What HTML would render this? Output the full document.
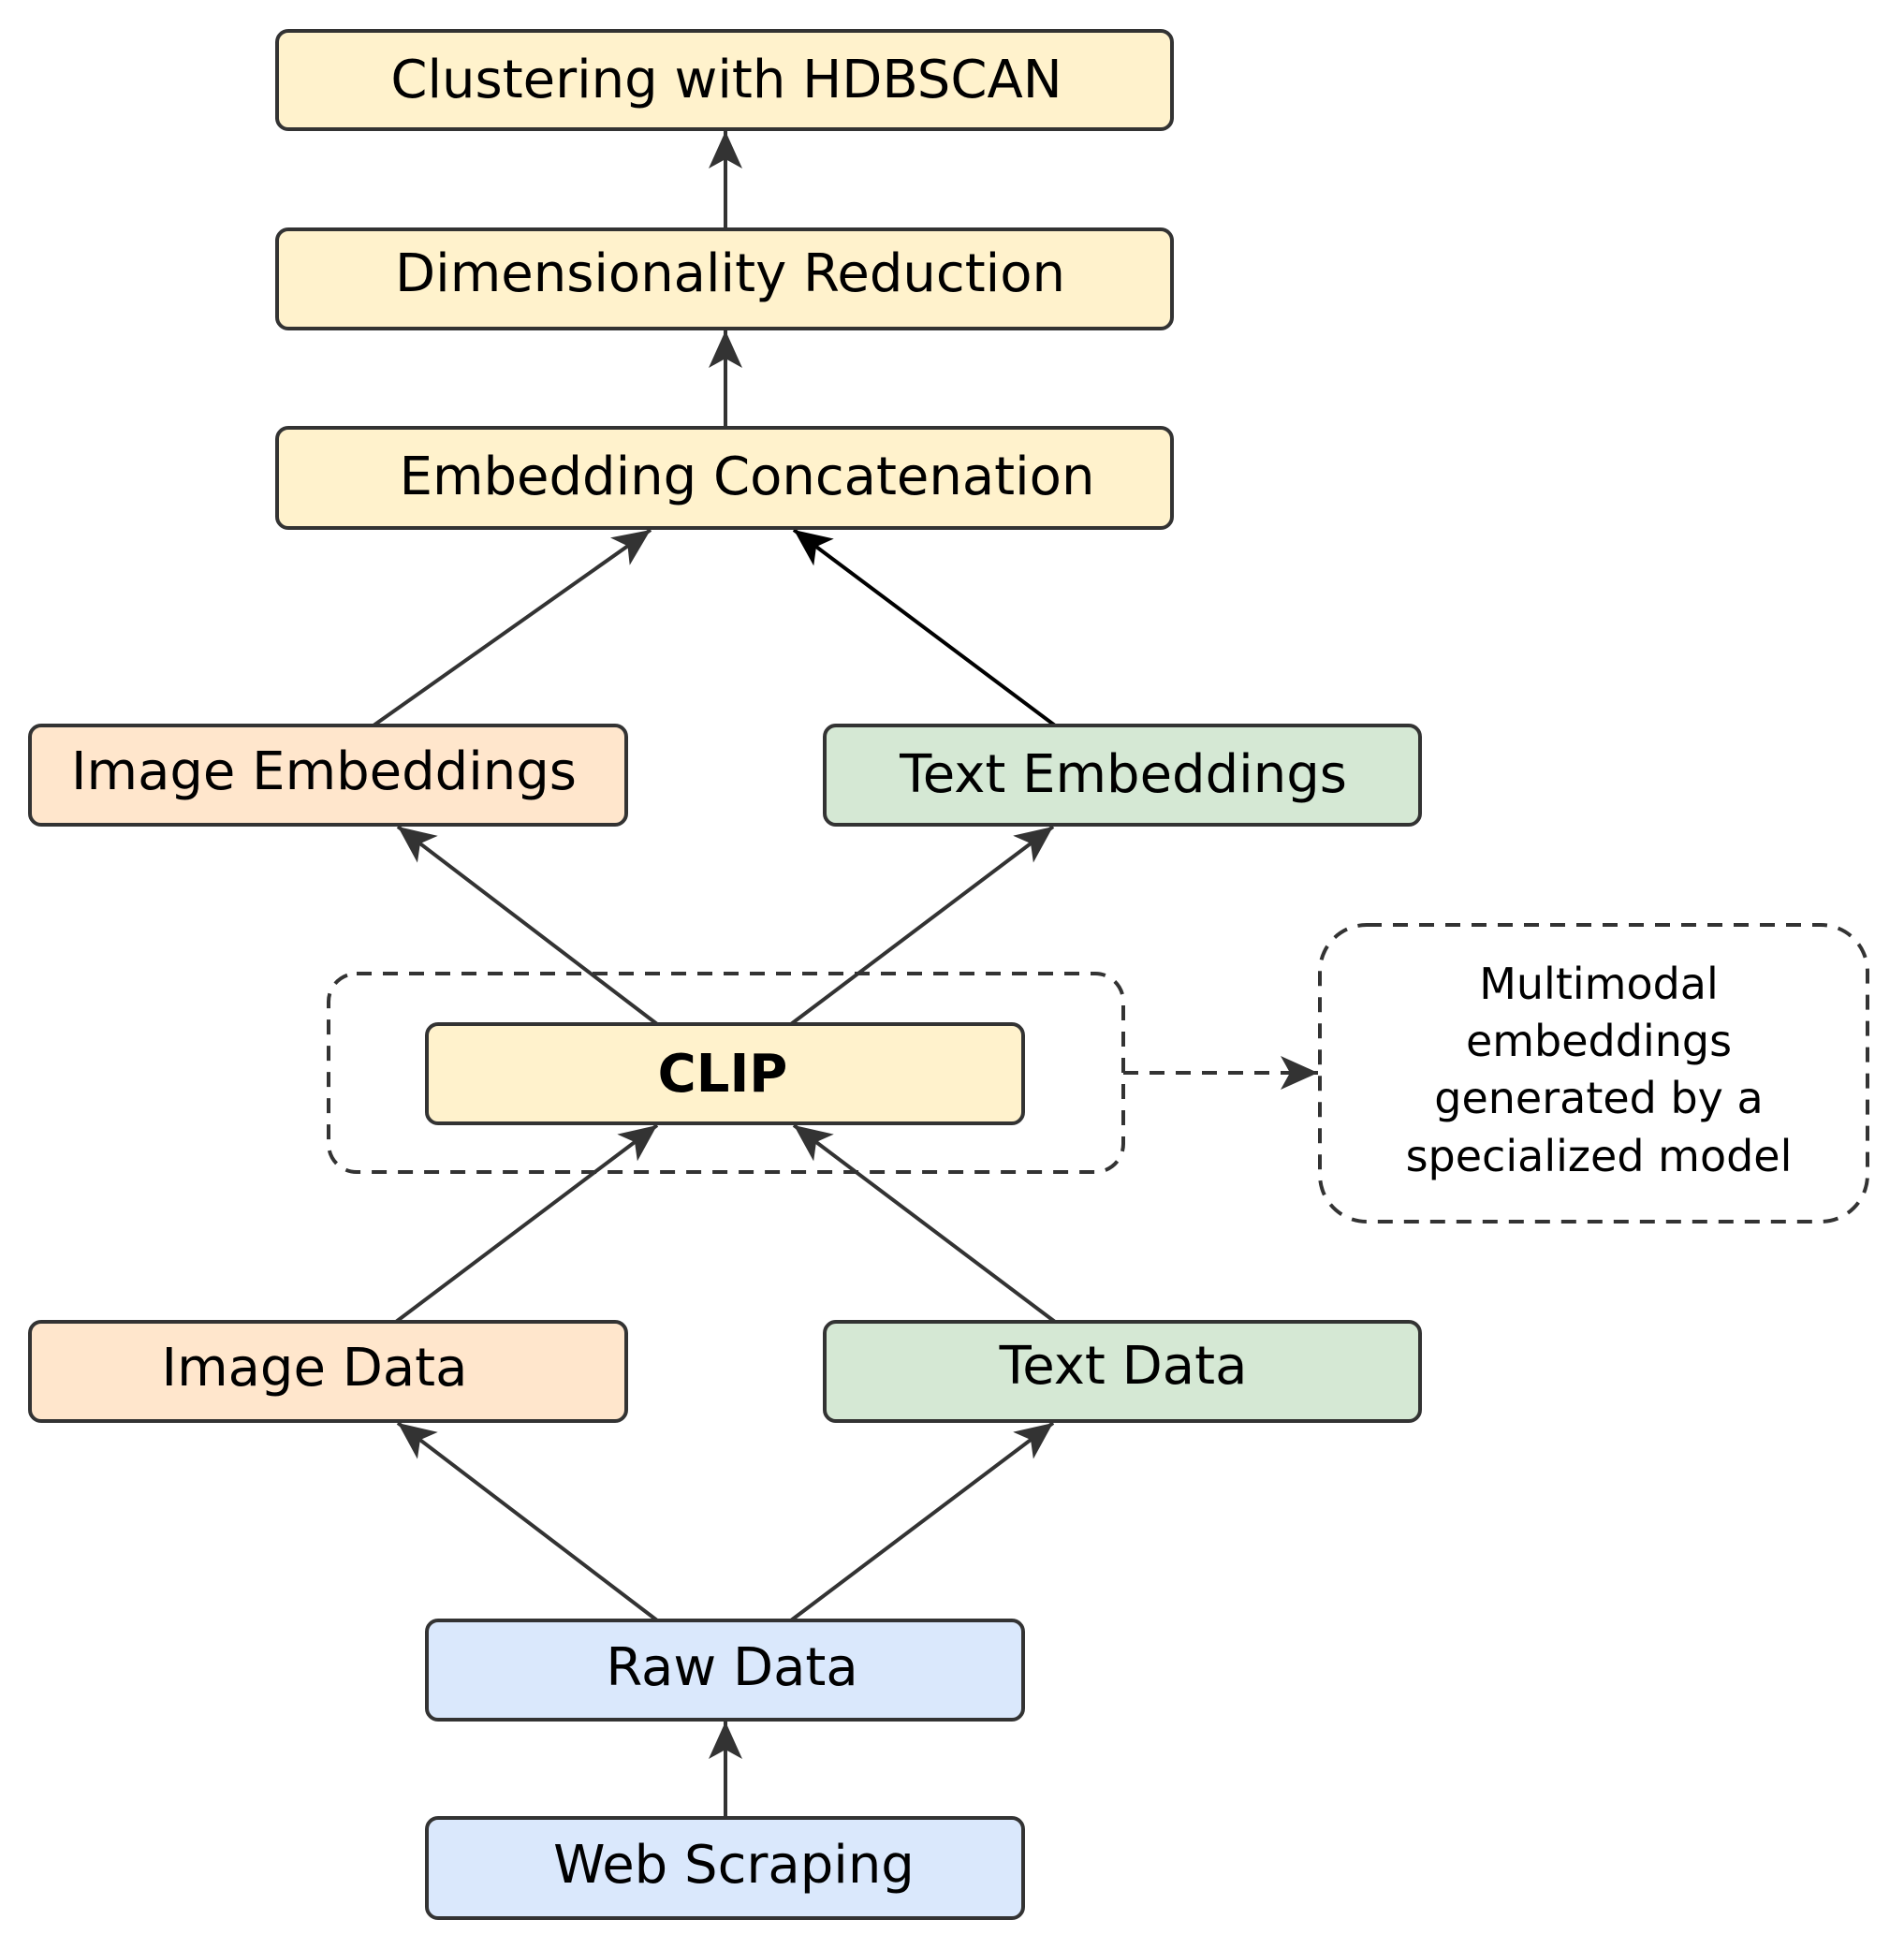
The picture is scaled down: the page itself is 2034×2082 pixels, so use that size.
<!DOCTYPE html>
<html><head><meta charset="utf-8"><style>
html,body{margin:0;padding:0;background:#fff}
svg{display:block}
text{font-family:"DejaVu Sans","Liberation Sans",sans-serif;fill:#000}
</style></head><body>
<svg width="2034" height="2082" viewBox="0 0 2034 2082" xmlns="http://www.w3.org/2000/svg">
<defs>
<marker id="a" markerUnits="userSpaceOnUse" markerWidth="50" markerHeight="50" refX="40" refY="18" orient="auto">
<path d="M0,0 L40,18 L0,36 L10,18 z" fill="#333"/>
</marker>
<marker id="b" markerUnits="userSpaceOnUse" markerWidth="50" markerHeight="50" refX="40" refY="18" orient="auto">
<path d="M0,0 L40,18 L0,36 L10,18 z" fill="#000"/>
</marker>
</defs>
<g stroke="#333" stroke-width="4" fill="none">
<line x1="775" y1="245" x2="775" y2="140" marker-end="url(#a)"/>
<line x1="775" y1="457" x2="775" y2="353" marker-end="url(#a)"/>
<line x1="399" y1="775" x2="695" y2="566" marker-end="url(#a)"/>
<line x1="1127" y1="775" x2="848" y2="566" marker-end="url(#b)" stroke="#000"/>
<line x1="702" y1="1094" x2="425" y2="883" marker-end="url(#a)"/>
<line x1="845" y1="1094" x2="1125" y2="883" marker-end="url(#a)"/>
<line x1="423" y1="1412" x2="702" y2="1202" marker-end="url(#a)"/>
<line x1="1127" y1="1412" x2="848" y2="1202" marker-end="url(#a)"/>
<line x1="702" y1="1731" x2="425" y2="1520" marker-end="url(#a)"/>
<line x1="845" y1="1731" x2="1125" y2="1520" marker-end="url(#a)"/>
<line x1="775" y1="1942" x2="775" y2="1839" marker-end="url(#a)"/>
<line x1="1200" y1="1146" x2="1408" y2="1146" stroke-dasharray="16 12" marker-end="url(#a)"/>
<rect x="351" y="1040" width="849" height="212" rx="30" stroke-dasharray="16 12"/>
<rect x="1410" y="988" width="585" height="317" rx="50" stroke-dasharray="16 12"/>
</g>
<g stroke="#333" stroke-width="4">
<rect x="296" y="33" width="956" height="105" rx="12" fill="#fff2cc"/>
<rect x="296" y="245" width="956" height="106" rx="12" fill="#fff2cc"/>
<rect x="296" y="457" width="956" height="107" rx="12" fill="#fff2cc"/>
<rect x="32" y="775" width="637" height="106" rx="12" fill="#ffe6cc"/>
<rect x="881" y="775" width="636" height="106" rx="12" fill="#d5e8d4"/>
<rect x="456" y="1094" width="637" height="106" rx="12" fill="#fff2cc"/>
<rect x="32" y="1412" width="637" height="106" rx="12" fill="#ffe6cc"/>
<rect x="881" y="1412" width="636" height="106" rx="12" fill="#d5e8d4"/>
<rect x="456" y="1731" width="637" height="106" rx="12" fill="#dae8fc"/>
<rect x="456" y="1942" width="637" height="107" rx="12" fill="#dae8fc"/>
</g>
<g font-size="56" text-anchor="middle">
<text x="776" y="104">Clustering with HDBSCAN</text>
<text x="780" y="311">Dimensionality Reduction</text>
<text x="798" y="528">Embedding Concatenation</text>
<text x="346" y="843">Image Embeddings</text>
<text x="1200" y="846">Text Embeddings</text>
<text x="772" y="1166" font-weight="bold">CLIP</text>
<text x="336" y="1480">Image Data</text>
<text x="1200" y="1478">Text Data</text>
<text x="782" y="1800">Raw Data</text>
<text x="784" y="2011">Web Scraping</text>
</g>
<g font-size="46" text-anchor="middle">
<text x="1708" y="1067">Multimodal</text>
<text x="1708" y="1128">embeddings</text>
<text x="1708" y="1189">generated by a</text>
<text x="1708" y="1251">specialized model</text>
</g>
</svg>
</body></html>
